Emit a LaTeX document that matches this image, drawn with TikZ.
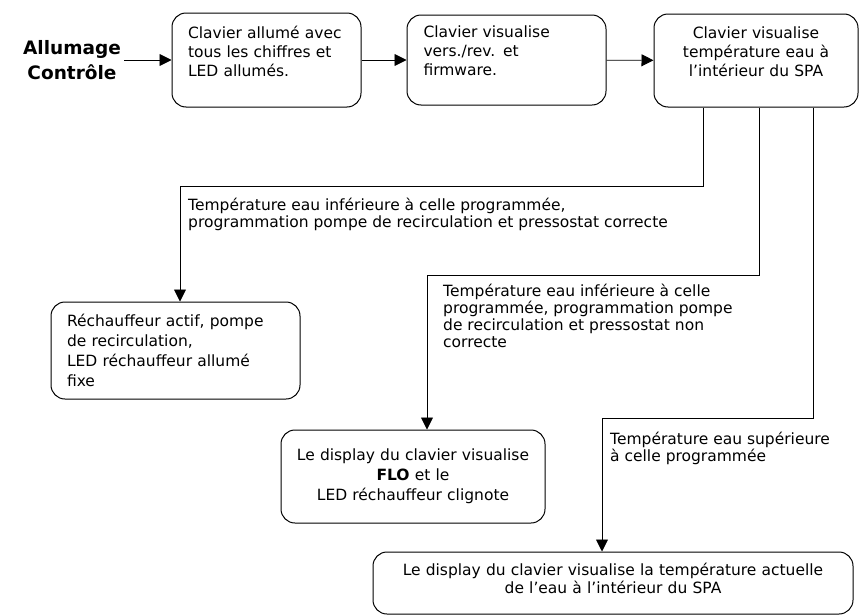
\documentclass[tikz,border=0pt]{standalone}
\usepackage{fontspec}
\setmainfont{DejaVu Sans}
\usetikzlibrary{arrows.meta, positioning}

\begin{document}
\begin{tikzpicture}[x=1pt, y=-1pt,
    box/.style={draw, line width=1pt, rounded corners=14pt, inner xsep=16pt, font=\fontsize{15.5}{19}\selectfont},
    lbl/.style={inner sep=0pt, anchor=north west, align=left, font=\fontsize{15.5}{17}\selectfont},
    arr/.style={line width=0.9pt, -{Triangle[length=12pt, width=12pt]}}]
    \useasboundingbox (0,0) rectangle (860,616);
    \node(title)[align=center, font=\fontsize{18.5}{25}\selectfont\bfseries] at (72,60) {Allumage\\Contrôle};
    \node(b1)[box, minimum width=189pt, minimum height=94pt, text width=157pt, align=left, text depth=56pt] at (266.5,60) {Clavier allumé avec\\tous les chiffres et\\LED allumés.};
    \node(b2)[box, minimum width=199pt, minimum height=90pt, text width=166pt, align=left, text depth=56pt] at (506.5,60) {Clavier visualise\\vers./rev. et\\firmware.};
    \node(b3)[box, minimum width=204pt, minimum height=93pt, text width=172pt, align=center, text depth=56pt] at (756,60.5) {Clavier visualise\\température eau à\\l’intérieur du SPA};
    \node(b4)[box, minimum width=249pt, minimum height=97pt, text width=217pt, align=left, font=\fontsize{15.5}{20}\selectfont] at (175.5,350.5) {Réchauffeur actif, pompe\\de recirculation,\\LED réchauffeur allumé\\fixe};
    \node(b5)[box, minimum width=264pt, minimum height=93pt, inner xsep=5pt, text width=254pt, align=center, font=\fontsize{15.5}{20}\selectfont] at (413,476.5) {Le display du clavier visualise\\\textbf{FLO} et le\\LED réchauffeur clignote};
    \node(b6)[box, minimum width=480pt, minimum height=62pt, text width=448pt, align=center, font=\fontsize{15.5}{18}\selectfont, text depth=27pt] at (613,583) {Le display du clavier visualise la température actuelle\\de l’eau à l’intérieur du SPA};
    \draw[arr] (title) -- (b1);
    \draw[arr] (b1) -- (b2);
    \draw[arr] (b2) -- (b3);
    \coordinate (j1) at (180,186);
    \coordinate (j2) at (427,275);
    \coordinate (j3) at (602,418);
    \draw[arr] ([xshift=-53pt]b3.south) |- (j1) -- (j1 |- b4.north);
    \draw[arr] ([xshift=3pt]b3.south) |- (j2) -- (j2 |- b5.north);
    \draw[arr] ([xshift=57pt]b3.south) |- (j3) -- (j3 |- b6.north);
    \node(l1)[lbl] at (188,198) {Température eau inférieure à celle programmée,\\programmation pompe de recirculation et pressostat correcte};
    \node(l2)[lbl] at (443,284) {Température eau inférieure à celle\\programmée, programmation pompe\\de recirculation et pressostat non\\correcte};
    \node(l3)[lbl] at (610,432) {Température eau supérieure\\à celle programmée};
\end{tikzpicture}
\end{document}
